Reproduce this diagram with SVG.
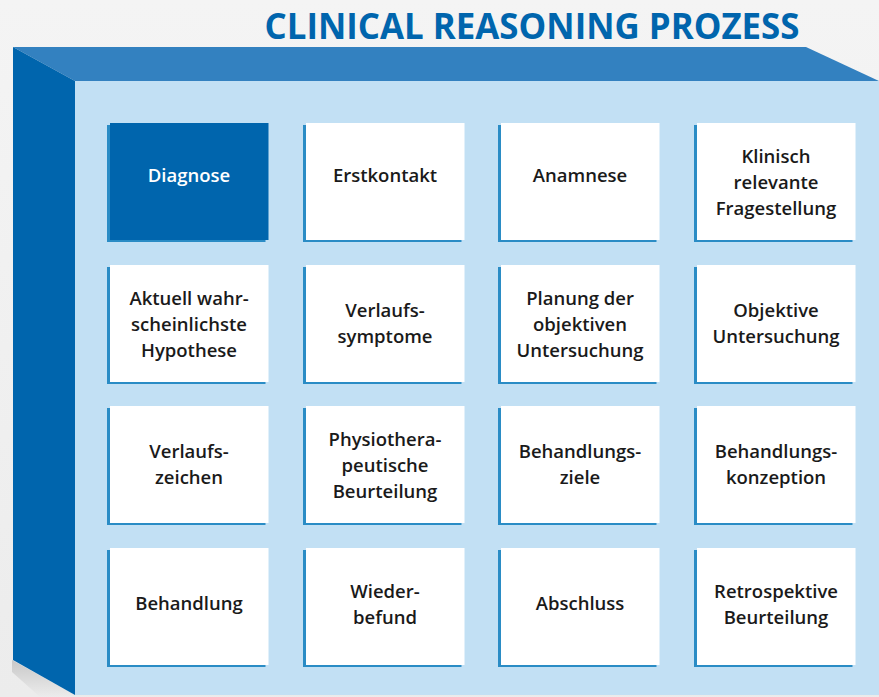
<svg xmlns="http://www.w3.org/2000/svg" width="879" height="697" viewBox="0 0 879 697">
<defs>
<linearGradient id="bg" x1="0" y1="0" x2="0" y2="1">
<stop offset="0" stop-color="#f4f4f4"/>
<stop offset="1" stop-color="#ececec"/>
</linearGradient>
<linearGradient id="sh" x1="0" y1="0" x2="0" y2="1">
<stop offset="0" stop-color="#c8c8c8"/>
<stop offset="1" stop-color="#ececec"/>
</linearGradient>
</defs>
<style>
.sh{fill:#2a8cc5}
.bx{fill:#ffffff}
.dk{fill:#0065ad}
.t{font-family:"Open Sans","Liberation Sans",sans-serif;font-weight:600;font-size:18.5px;fill:#1a1a1a;text-anchor:middle}
.w{fill:#ffffff}
</style>
<rect width="879" height="697" fill="url(#bg)"/>
<text x="532" y="39" font-family="'Open Sans','Liberation Sans',sans-serif" font-weight="700" font-size="36" fill="#0065ad" text-anchor="middle" textLength="535" lengthAdjust="spacingAndGlyphs">CLINICAL REASONING PROZESS</text>
<g id="box3d">
<polygon points="12,660 75,695 879,695 879,697 40,697 12,672" fill="url(#sh)"/>
<polygon points="13,47 806,47 879,81 75,81" fill="#3381c0"/>
<polygon points="13,47 75,81 75,695 13,660" fill="#0065ad"/>
<rect x="75" y="81" width="804" height="614" fill="#c2e0f4"/>
</g>
<g id="n1"><rect class="sh" x="107" y="125" width="158.5" height="117"/><rect class="dk" x="110" y="123" width="158.5" height="117"/><text class="t w" x="189" y="182">Diagnose</text></g>
<g id="n2"><rect class="sh" x="303" y="125" width="158.5" height="117"/><rect class="bx" x="306" y="123" width="158.5" height="117"/><text class="t" x="385" y="182">Erstkontakt</text></g>
<g id="n3"><rect class="sh" x="498" y="125" width="158.5" height="117"/><rect class="bx" x="501" y="123" width="158.5" height="117"/><text class="t" x="580" y="182">Anamnese</text></g>
<g id="n4"><rect class="sh" x="694" y="125" width="158.5" height="117"/><rect class="bx" x="697" y="123" width="158.5" height="117"/><text class="t" x="776" y="163">Klinisch<tspan x="776" dy="26">relevante</tspan><tspan x="776" dy="26">Fragestellung</tspan></text></g>
<g id="n5"><rect class="sh" x="107" y="267" width="158.5" height="117"/><rect class="bx" x="110" y="265" width="158.5" height="117"/><text class="t" x="189" y="305">Aktuell wahr-<tspan x="189" dy="26">scheinlichste</tspan><tspan x="189" dy="26">Hypothese</tspan></text></g>
<g id="n6"><rect class="sh" x="303" y="267" width="158.5" height="117"/><rect class="bx" x="306" y="265" width="158.5" height="117"/><text class="t" x="385" y="317">Verlaufs-<tspan x="385" dy="26">symptome</tspan></text></g>
<g id="n7"><rect class="sh" x="498" y="267" width="158.5" height="117"/><rect class="bx" x="501" y="265" width="158.5" height="117"/><text class="t" x="580" y="305">Planung der<tspan x="580" dy="26">objektiven</tspan><tspan x="580" dy="26">Untersuchung</tspan></text></g>
<g id="n8"><rect class="sh" x="694" y="267" width="158.5" height="117"/><rect class="bx" x="697" y="265" width="158.5" height="117"/><text class="t" x="776" y="317">Objektive<tspan x="776" dy="26">Untersuchung</tspan></text></g>
<g id="n9"><rect class="sh" x="107" y="408" width="158.5" height="117"/><rect class="bx" x="110" y="406" width="158.5" height="117"/><text class="t" x="189" y="458">Verlaufs-<tspan x="189" dy="26">zeichen</tspan></text></g>
<g id="n10"><rect class="sh" x="303" y="408" width="158.5" height="117"/><rect class="bx" x="306" y="406" width="158.5" height="117"/><text class="t" x="385" y="446">Physiothera-<tspan x="385" dy="26">peutische</tspan><tspan x="385" dy="26">Beurteilung</tspan></text></g>
<g id="n11"><rect class="sh" x="498" y="408" width="158.5" height="117"/><rect class="bx" x="501" y="406" width="158.5" height="117"/><text class="t" x="580" y="458">Behandlungs-<tspan x="580" dy="26">ziele</tspan></text></g>
<g id="n12"><rect class="sh" x="694" y="408" width="158.5" height="117"/><rect class="bx" x="697" y="406" width="158.5" height="117"/><text class="t" x="776" y="458">Behandlungs-<tspan x="776" dy="26">konzeption</tspan></text></g>
<g id="n13"><rect class="sh" x="107" y="550" width="158.5" height="117"/><rect class="bx" x="110" y="548" width="158.5" height="117"/><text class="t" x="189" y="610">Behandlung</text></g>
<g id="n14"><rect class="sh" x="303" y="550" width="158.5" height="117"/><rect class="bx" x="306" y="548" width="158.5" height="117"/><text class="t" x="385" y="598">Wieder-<tspan x="385" dy="26">befund</tspan></text></g>
<g id="n15"><rect class="sh" x="498" y="550" width="158.5" height="117"/><rect class="bx" x="501" y="548" width="158.5" height="117"/><text class="t" x="580" y="610">Abschluss</text></g>
<g id="n16"><rect class="sh" x="694" y="550" width="158.5" height="117"/><rect class="bx" x="697" y="548" width="158.5" height="117"/><text class="t" x="776" y="598">Retrospektive<tspan x="776" dy="26">Beurteilung</tspan></text></g>
<g id="connectors"></g>
</svg>
